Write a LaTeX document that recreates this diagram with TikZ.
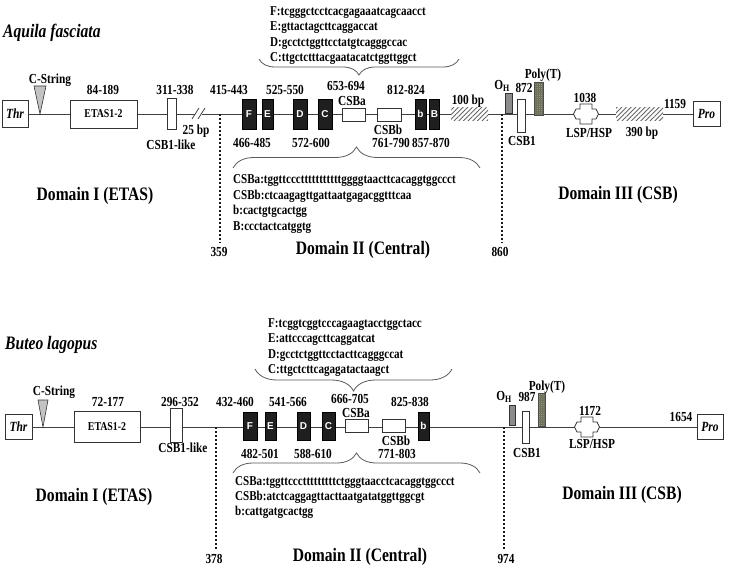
\documentclass[tikz,border=0pt]{standalone}
\usepackage{fontspec}
\setmainfont{Liberation Serif}[FakeStretch=0.82]
\newfontfamily\boxfont{Liberation Sans}
\usetikzlibrary{decorations.pathreplacing,patterns.meta}

\definecolor{polyc}{RGB}{110,112,90}
\definecolor{ohc}{RGB}{140,140,140}
\definecolor{tric}{RGB}{195,195,195}

\tikzset{
  mainline/.style={line width=0.8pt, draw=black!75},
  boxw/.style={draw=black!80, line width=0.8pt, fill=white, inner sep=0pt},
  endbox/.style={boxw, font=\bfseries\itshape\fontsize{14}{14}\selectfont},
  etasbox/.style={boxw, font=\bfseries\fontsize{12}{12}\selectfont},
  boxk/.style={draw=black, fill=black!88, inner sep=0pt, text=white,
    font=\boxfont\bfseries\fontsize{10}{10}\selectfont},
  hatchbox/.style={inner sep=0pt, preaction={fill=white},
    pattern={Lines[angle=45,distance=3.3pt,line width=0.9pt]}, pattern color=black!60},
  ohbox/.style={draw=black!80, line width=0.6pt, fill=ohc, inner sep=0pt},
  polybox/.style={draw=black!70, line width=0.6pt, inner sep=0pt, preaction={fill=polyc},
    pattern={Dots[distance=2.2pt,radius=0.5pt,xshift=0.4pt]}, pattern color=white!40!polyc},
  lab/.style={font=\bfseries\fontsize{13.8}{14}\selectfont, inner sep=1pt},
  seq/.style={font=\bfseries\fontsize{13.5}{14}\selectfont, inner sep=0pt, anchor=base west},
  dom/.style={font=\bfseries\fontsize{19}{20}\selectfont},
  spec/.style={font=\bfseries\itshape\fontsize{19}{20}\selectfont, anchor=west, inner sep=0pt},
  dotline/.style={line width=1.9pt, dash pattern=on 1.9pt off 2.1pt, draw=black!90, shorten >=3pt},
  brc/.style={decorate, decoration={brace, amplitude=#1}, draw=black!65, line width=0.8pt},
  tri/.style={draw=black!80, line width=0.6pt, fill=tric},
  lspmark/.pic={\draw[boxw] (-6,-10) -- (6,-10) -- (6,-5) -- (10,-5) -- (12.5,0) -- (10,5) -- (6,5)
    -- (6,10) -- (-6,10) -- (-6,5) -- (-10,5) -- (-12.5,0) -- (-10,-5) -- (-6,-5) -- cycle;}
}

\begin{document}
\begin{tikzpicture}[x=1pt,y=-1pt]
\useasboundingbox (0,0) rectangle (731,575);

% Aquila fasciata
\node[spec] (spA) at (3,33) {Aquila fasciata};
\node[endbox, minimum width=26, minimum height=27] (thrA) at (15,114) {Thr};
\node[endbox, minimum width=27, minimum height=25] (proA) at (706.5,114) {Pro};
\draw[mainline] (thrA.east) -- (proA.west);

\draw[tri] (34,86) -- (46,86) -- (40,114) -- cycle;
\node[lab] (cstrA) at (50,80) {C-String};
\node[etasbox, minimum width=67, minimum height=28] (etasA) at (103.5,114) {ETAS1-2};
\node[lab] (etasnA) at (103,90) {84-189};
\node[boxw, minimum width=9, minimum height=31] (csblA) at (171.5,114) {};
\node[lab] (csblnA) at (175,90) {311-338};
\node[lab] (csbltA) at (171,145) {CSB1-like};
\fill[white] (195,109) rectangle (202,119);
\draw[mainline] (192,119) -- (199,108) (198,119) -- (205,108);
\node[lab] (gapA) at (196,131) {25 bp};

\coordinate (t359) at (220,114);
\node[lab] (n359) at (219,252) {359};
\draw[dotline] (t359) -- (t359 |- n359.north);

\node[boxk, minimum width=14, minimum height=30] (fA) at (249,114) {F};
\node[boxk, minimum width=11, minimum height=30] (eA) at (267.5,114) {E};
\node[boxk, minimum width=14, minimum height=30] (dA) at (300,114) {D};
\node[boxk, minimum width=14, minimum height=30] (cA) at (325,114) {C};
\node[boxw, minimum width=23, minimum height=13] (csbaA) at (353.5,114.5) {};
\node[boxw, minimum width=24, minimum height=13] (csbbA) at (389,114.5) {};
\node[boxk, minimum width=11, minimum height=30] (bsA) at (420.5,114) {b};
\node[boxk, minimum width=10, minimum height=30] (bbA) at (434.5,114) {B};
\node[hatchbox, minimum width=37, minimum height=13] (gapB) at (469.5,114.5) {};
\node[lab] (gapBt) at (468,101) {100 bp};

\node[lab] (fnA) at (229,90) {415-443};
\node[lab] (dnA) at (285,90) {525-550};
\node[lab, inner sep=0pt] (csbanA) at (346,86.5) {653-694};
\node[lab, inner sep=0pt] (csbatA) at (352,101) {CSBa};
\node[lab] (bsnA) at (406,90) {812-824};
\node[lab] (enA) at (252,143) {466-485};
\node[lab] (cnA) at (311,143) {572-600};
\node[lab] (csbbtA) at (388,130) {CSBb};
\node[lab] (csbbnA) at (391,143) {761-790};
\node[lab] (bbnA) at (431,143) {857-870};

\draw[brc=16, decoration={mirror}] (259,59) -- (459,59);
\node[seq] (sfA) at (270,15.7) {F:tcgggctcctcacgagaaatcagcaacct};
\node[seq] (seA) at (270,31) {E:gttactagcttcaggaccat};
\node[seq] (sdA) at (270,46.3) {D:gcctctggttcctatgtcagggccac};
\node[seq] (scA) at (270,61.6) {C:ttgctctttacgaatacatctggttggct};

\draw[brc=21] (233,168) -- (480,168);
\node[seq] (scsbaA) at (233,183.5) {CSBa:tggttccctttttttttttggggtaacttcacaggtggccct};
\node[seq] (scsbbA) at (233,199) {CSBb:ctcaagagttgattaatgagacggtttcaa};
\node[seq] (sbsA) at (233,214.5) {b:cactgtgcactgg};
\node[seq] (sbbA) at (233,230) {B:ccctactcatggtg};

\coordinate (t860) at (502,114);
\node[lab] (n860) at (500,252) {860};
\draw[dotline] (t860) -- (t860 |- n860.north);

\node[ohbox, minimum width=7, minimum height=20] (ohA) at (508.5,103) {};
\node[lab] (ohtA) at (502,86) {O\textsubscript{H}};
\node[boxw, minimum width=8, minimum height=33] (csbA) at (521,115.5) {};
\node[lab] (csbnA) at (524,88) {872};
\node[lab] (csbtA) at (522,141) {CSB1};
\node[polybox, minimum width=9, minimum height=33] (polyA) at (538.5,98.5) {};
\node[lab] (polytA) at (543,75) {Poly(T)};
\coordinate (lspA) at (586,114);
\pic at (lspA) {lspmark};
\node[lab] (lspnA) at (585,98) {1038};
\node[lab] (lsptA) at (589,133) {LSP/HSP};
\node[hatchbox, minimum width=47, minimum height=13] (gapC) at (639.5,114.5) {};
\node[lab] (gapCt) at (642,133) {390 bp};
\node[lab] (pronA) at (675,104) {1159};

\node[dom] (domIA) at (95,196) {Domain I (ETAS)};
\node[dom] (domIIA) at (363,250) {Domain II (Central)};
\node[dom] (domIIIA) at (618,195) {Domain III (CSB)};

% Buteo lagopus
\node[spec] (spB) at (5,345) {Buteo lagopus};
\node[endbox, minimum width=27, minimum height=25] (thrB) at (18.5,427) {Thr};
\node[endbox, minimum width=26, minimum height=25] (proB) at (710,427) {Pro};
\draw[mainline] (thrB.east) -- (proB.west);

\draw[tri] (38,400) -- (48,400) -- (43,427) -- cycle;
\node[lab] (cstrB) at (54,392) {C-String};
\node[etasbox, minimum width=66, minimum height=31] (etasB) at (107,426.5) {ETAS1-2};
\node[lab] (etasnB) at (108,402) {72-177};
\node[boxw, minimum width=12, minimum height=34] (csblB) at (176.5,425) {};
\node[lab] (csblnB) at (180,402) {296-352};
\node[lab] (csbltB) at (183,448) {CSB1-like};

\coordinate (t378) at (216,427);
\node[lab] (n378) at (214,559) {378};
\draw[dotline] (t378) -- (t378 |- n378.north);

\node[boxk, minimum width=14, minimum height=28] (fB) at (250,426) {F};
\node[boxk, minimum width=11, minimum height=28] (eB) at (270.5,426) {E};
\node[boxk, minimum width=13, minimum height=28] (dB) at (303.5,426) {D};
\node[boxk, minimum width=13, minimum height=28] (cB) at (328.5,426) {C};
\node[boxw, minimum width=23, minimum height=13] (csbaB) at (356.5,425.5) {};
\node[boxw, minimum width=23, minimum height=13] (csbbB) at (393.5,425.5) {};
\node[boxk, minimum width=11, minimum height=28] (bsB) at (423.5,426) {b};

\node[lab] (fnB) at (235,402) {432-460};
\node[lab] (dnB) at (288,402) {541-566};
\node[lab, inner sep=0pt] (csbanB) at (350,398.5) {666-705};
\node[lab, inner sep=0pt] (csbatB) at (356,413) {CSBa};
\node[lab] (bsnB) at (410,402) {825-838};
\node[lab] (enB) at (260,454) {482-501};
\node[lab] (cnB) at (313,454) {588-610};
\node[lab] (csbbtB) at (396,441) {CSBb};
\node[lab] (csbbnB) at (397,454) {771-803};

\draw[brc=22, decoration={mirror}] (255,369) -- (452,369);
\node[seq] (sfB) at (268,327) {F:tcggtcggtcccagaagtacctggctacc};
\node[seq] (seB) at (268,342.5) {E:attcccagcttcaggatcat};
\node[seq] (sdB) at (268,358) {D:gcctctggttcctacttcagggccat};
\node[seq] (scB) at (268,373) {C:ttgctcttcagagatactaagct};

\draw[brc=20] (233,473) -- (480,473);
\node[seq] (scsbaB) at (235,485.7) {CSBa:tggttccctttttttttctgggtaacctcacaggtggccct};
\node[seq] (scsbbB) at (235,500.7) {CSBb:atctcaggagttacttaatgatatggttggcgt};
\node[seq] (sbsB) at (235,515.5) {b:cattgatgcactgg};

\coordinate (t974) at (504,427);
\node[lab] (n974) at (506,559) {974};
\draw[dotline] (t974) -- (t974 |- n974.north);

\node[ohbox, minimum width=6, minimum height=20] (ohB) at (512,415) {};
\node[lab] (ohtB) at (504,397) {O\textsubscript{H}};
\node[lab] (csbnB) at (527,397) {987};
\node[boxw, minimum width=7, minimum height=32] (csbB) at (525.5,427) {};
\node[lab] (csbtB) at (527,453) {CSB1};
\node[polybox, minimum width=7, minimum height=33] (polyB) at (541.5,409.5) {};
\node[lab] (polytB) at (547,387) {Poly(T)};
\coordinate (lspB) at (587,427);
\pic at (lspB) {lspmark};
\node[lab] (lspnB) at (590,411) {1172};
\node[lab] (lsptB) at (592,444) {LSP/HSP};
\node[lab] (pronB) at (681,417) {1654};

\node[dom] (domIB) at (94,497) {Domain I (ETAS)};
\node[dom] (domIIB) at (360,557) {Domain II (Central)};
\node[dom] (domIIIB) at (622,495) {Domain III (CSB)};
\end{tikzpicture}
\end{document}
